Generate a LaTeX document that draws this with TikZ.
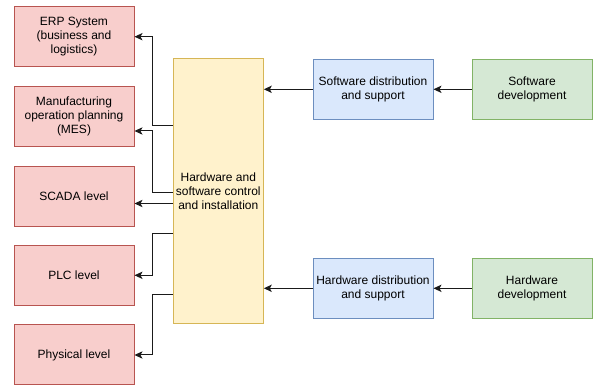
\documentclass[tikz,border=0pt]{standalone}
\usepackage{fontspec}
\setmainfont{Liberation Sans}
\usetikzlibrary{arrows.meta}
\definecolor{redfill}{HTML}{F8CECC}
\definecolor{redline}{HTML}{B85450}
\definecolor{yelfill}{HTML}{FFF2CC}
\definecolor{yelline}{HTML}{D6B656}
\definecolor{bluefill}{HTML}{DAE8FC}
\definecolor{blueline}{HTML}{6C8EBF}
\definecolor{grnfill}{HTML}{D5E8D4}
\definecolor{grnline}{HTML}{82B366}
\definecolor{wire}{HTML}{1A1A1A}
\tikzset{
  box/.style={draw, line width=0.75pt, minimum width=90pt, minimum height=45pt,
    inner sep=2pt, align=center,
    font=\fontsize{9pt}{10.5pt}\selectfont},
  level/.style={box, fill=redfill, draw=redline},
  hub/.style={box, fill=yelfill, draw=yelline, minimum width=67.5pt,
    minimum height=198.75pt},
  dist/.style={box, fill=bluefill, draw=blueline},
  devel/.style={box, fill=grnfill, draw=grnline},
  arr/.style={draw=wire, line width=0.75pt,
    -{Stealth[length=6pt, width=5.5pt, inset=1.5pt]}}
}
\begin{document}
\begin{tikzpicture}[x=0.75pt, y=-0.75pt]
  \useasboundingbox (0,0) rectangle (594,385);

  % automation pyramid levels
  \node[level] (erp)   at (74,36.7)  {ERP System\\(business and\\logistics)};
  \node[level] (mes)   at (74,116.7) {Manufacturing\\operation planning\\(MES)};
  \node[level] (scada) at (74,196.3) {SCADA level};
  \node[level] (plc)   at (74,275.3) {PLC level};
  \node[level] (phys)  at (74,355)   {Physical level};

  % central control and installation block
  \node[hub] (ctr) at (218.3,191.5) {Hardware and\\software control\\and installation};

  % distribution and development chains
  \node[dist]  (swd)   at (373,89.3)  {Software distribution\\and support};
  \node[devel] (swdev) at (532,89.3)  {Software\\development};
  \node[dist]  (hwd)   at (373,288.3) {Hardware distribution\\and support};
  \node[devel] (hwdev) at (532,288.3) {Hardware\\development};

  % feeds into the central block
  \draw[arr] (swdev.west) -- (swd.east);
  \draw[arr] (swd.west) -- (ctr.east |- swd.west);
  \draw[arr] (hwdev.west) -- (hwd.east);
  \draw[arr] (hwd.west) -- (ctr.east |- hwd.west);

  % outputs to the levels
  \draw[arr] (ctr.west |- 0,125.7) -- ++(-20,0) |- (erp.east);
  \draw[arr] (ctr.west |- 0,192.3) -- ++(-20,0) |- (mes.east |- 0,131);
  \draw[arr] (ctr.west |- 0,203.5) -- (scada.east |- 0,203.5);
  \draw[arr] (ctr.west |- 0,234) -- ++(-20,0) |- (plc.east);
  \draw[arr] (ctr.west |- 0,294.3) -- ++(-20,0) |- (phys.east);
\end{tikzpicture}
\end{document}
